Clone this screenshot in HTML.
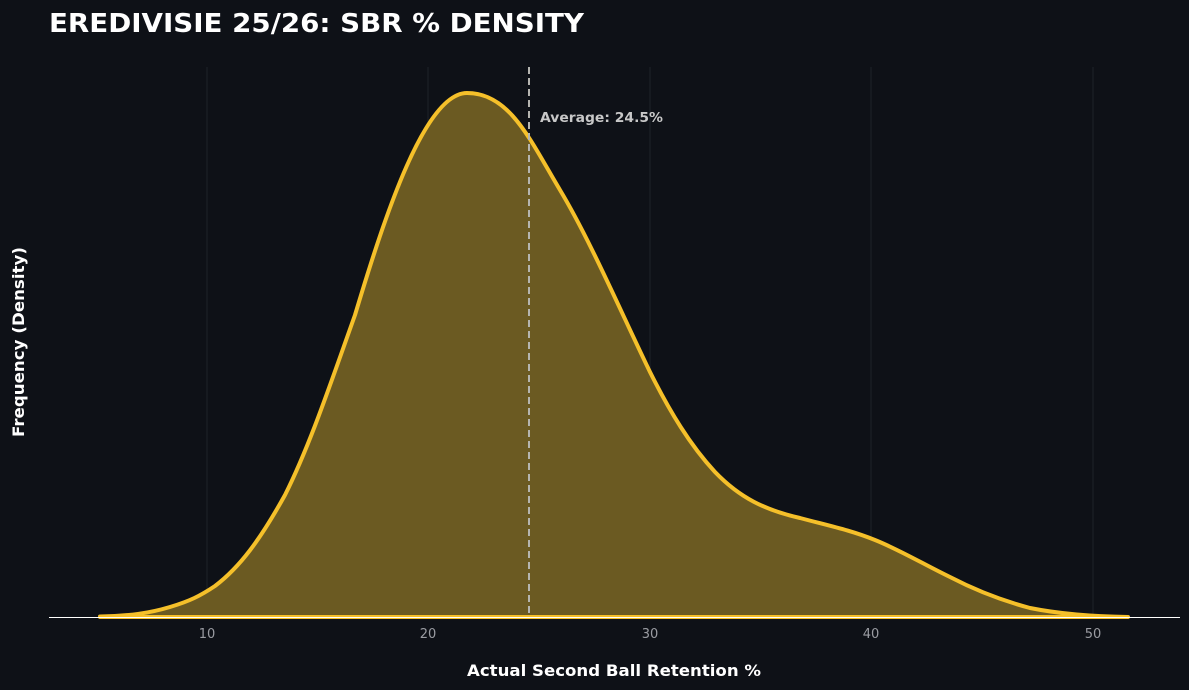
<!DOCTYPE html>
<html><head><meta charset="utf-8"><style>
html,body{margin:0;padding:0;background:#0e1117;}
svg{display:block;}
text{font-family:"DejaVu Sans","Liberation Sans",sans-serif;}
</style></head><body>
<svg width="1189" height="690" viewBox="0 0 1189 690" xmlns="http://www.w3.org/2000/svg">
<rect width="1189" height="690" fill="#0e1117"/>
<text x="49" y="32" fill="#ffffff" font-size="26" font-weight="bold" textLength="535" lengthAdjust="spacingAndGlyphs">EREDIVISIE 25/26: SBR % DENSITY</text>
<g stroke="#1e2229" stroke-width="1">
<line x1="207" y1="67" x2="207" y2="617"/>
<line x1="428" y1="67" x2="428" y2="617"/>
<line x1="650" y1="67" x2="650" y2="617"/>
<line x1="871" y1="67" x2="871" y2="617"/>
<line x1="1093" y1="67" x2="1093" y2="617"/>
</g>
<path d="M100,616.5 C130,616 150,613 170,607 C190,601 200,596 215,586 C240,567 260,540 285,495 C310,445 330,385 355,315 C385,215 425,93 467,93 C510,93 530,140 560,190 C590,240 620,310 650,372 C670,412 690,445 715,472 C740,498 765,510 800,518 C830,526 850,530 875,540 C900,550 925,565 950,577 C975,590 1000,600 1030,608 C1060,614 1090,616.5 1128,617 L1128,617 L100,617 Z" fill="#6b5a22" stroke="#f5c02a" stroke-width="4" stroke-linejoin="round"/>
<line x1="100" y1="617" x2="1128" y2="617" stroke="#f5c02a" stroke-width="2"/>
<line x1="529" y1="67" x2="529" y2="617" stroke="#b5b5b0" stroke-width="2" stroke-dasharray="7,4"/>
<text x="540" y="122" fill="#c8c8c8" font-size="13" font-weight="bold" textLength="123" lengthAdjust="spacingAndGlyphs">Average: 24.5%</text>
<line x1="49" y1="617.5" x2="1180" y2="617.5" stroke="#ffffff" stroke-width="1"/>
<g fill="#9a9ca2" font-size="13" text-anchor="middle">
<text x="207" y="638">10</text><text x="428" y="638">20</text><text x="650" y="638">30</text><text x="871" y="638">40</text><text x="1093" y="638">50</text>
</g>
<text x="467" y="676" fill="#ffffff" font-size="16" font-weight="bold" textLength="294" lengthAdjust="spacingAndGlyphs">Actual Second Ball Retention %</text>
<text transform="translate(24,437) rotate(-90)" fill="#ffffff" font-size="16" font-weight="bold" textLength="190" lengthAdjust="spacingAndGlyphs">Frequency (Density)</text>
</svg>
</body></html>
